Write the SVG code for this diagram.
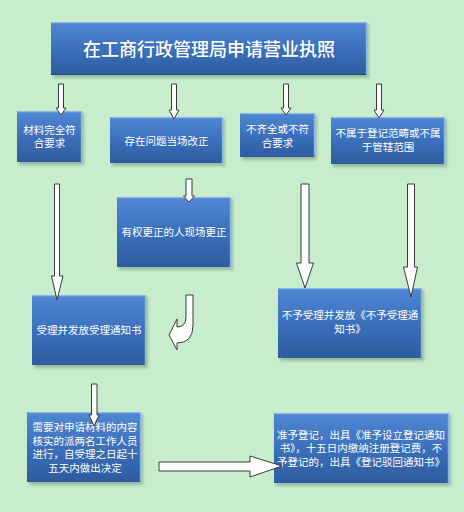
<svg xmlns="http://www.w3.org/2000/svg" width="464" height="512" viewBox="0 0 464 512">
<defs>
<linearGradient id="bg" x1="0" y1="0" x2="0" y2="1">
<stop offset="0" stop-color="#4F88D3"/>
<stop offset="0.5" stop-color="#3C70BC"/>
<stop offset="1" stop-color="#2D5C9E"/>
</linearGradient>
<filter id="sh" x="-10%" y="-10%" width="130%" height="140%">
<feGaussianBlur stdDeviation="1.5"/>
</filter>
<style>
.bx{fill:url(#bg);}
.sd{fill:#5f7d68;opacity:0.45;filter:url(#sh);}
.hl{fill:none;stroke:#8CB6EA;stroke-width:1.2;}
.dk{fill:none;stroke:#24497f;stroke-width:1;}
.t{font-family:"Noto Sans CJK SC","Noto Sans",sans-serif;font-size:10.5px;fill:#ffffff;text-anchor:middle;}
.tt{font-family:"Noto Sans CJK SC","Noto Sans",sans-serif;font-size:18px;font-weight:500;fill:#ffffff;text-anchor:middle;}
.ar{fill:#ffffff;stroke:#3a3a3a;stroke-width:1;stroke-linejoin:miter;}
</style>
</defs>
<rect x="0" y="0" width="464" height="512" fill="#C7EDCD"/>

<g id="title">
<rect class="sd" x="53" y="24" width="316" height="54"/>
<rect class="bx" x="51" y="22" width="316" height="53"/>
<path class="hl" d="M51.5,22.6 H366.4 V75"/>
<path class="dk" d="M51,74.5 H366"/>
<text class="tt" x="209" y="55.5">在工商行政管理局申请营业执照</text>
</g>

<g id="n1">
<rect class="sd" x="19" y="113" width="65" height="52"/>
<rect class="bx" x="17" y="111" width="65" height="51"/>
<path class="hl" d="M17.5,111.6 H81.4 V162"/>
<text class="t" x="49.5" y="133.5">材料完全符</text>
<text class="t" x="49.5" y="147">合要求</text>
</g>

<g id="n2">
<rect class="sd" x="112" y="119" width="113" height="47"/>
<rect class="bx" x="110" y="117" width="113" height="46"/>
<path class="hl" d="M110.5,117.6 H222.4 V163"/>
<text class="t" x="166.5" y="145">存在问题当场改正</text>
</g>

<g id="n3">
<rect class="sd" x="242" y="115" width="75" height="45"/>
<rect class="bx" x="240" y="113" width="75" height="44"/>
<path class="hl" d="M240.5,113.6 H314.4 V157"/>
<text class="t" x="277.5" y="133">不齐全或不符</text>
<text class="t" x="277.5" y="146.5">合要求</text>
</g>

<g id="n4">
<rect class="sd" x="333" y="119" width="114" height="48"/>
<rect class="bx" x="331" y="117" width="114" height="47"/>
<path class="hl" d="M331.5,117.6 H444.4 V164"/>
<text class="t" x="388" y="137">不属于登记范畴或不属</text>
<text class="t" x="388" y="150.5">于管辖范围</text>
</g>

<g id="n5">
<rect class="sd" x="119" y="199" width="114" height="71"/>
<rect class="bx" x="117" y="197" width="114" height="70"/>
<path class="hl" d="M117.5,197.6 H230.4 V267"/>
<text class="t" x="174" y="236">有权更正的人现场更正</text>
</g>

<g id="n6">
<rect class="sd" x="34" y="297" width="114" height="71"/>
<rect class="bx" x="32" y="295" width="114" height="70"/>
<path class="hl" d="M32.5,295.6 H145.4 V365"/>
<text class="t" x="89" y="334">受理并发放受理通知书</text>
</g>

<g id="n7">
<rect class="sd" x="280" y="290" width="144" height="71"/>
<rect class="bx" x="278" y="288" width="144" height="70"/>
<path class="hl" d="M278.5,288.6 H421.4 V358"/>
<text class="t" x="350" y="319">不予受理并发放《不予受理通</text>
<text class="t" x="350" y="333">知书》</text>
</g>

<g id="n8">
<rect class="sd" x="29" y="414" width="114" height="71"/>
<rect class="bx" x="27" y="412" width="114" height="70"/>
<path class="hl" d="M27.5,412.6 H140.4 V482"/>
<text class="t" x="85" y="431">需要对申请材料的内容</text>
<text class="t" x="85" y="444.5">核实的派两名工作人员</text>
<text class="t" x="85" y="458">进行，自受理之日起十</text>
<text class="t" x="85" y="471.5">五天内做出决定</text>
</g>

<g id="n9">
<rect class="sd" x="276" y="415" width="175" height="71"/>
<rect class="bx" x="274" y="413" width="175" height="70"/>
<path class="hl" d="M274.5,413.6 H448.4 V483"/>
<text class="t" x="361" y="438.5">准予登记，出具《准予设立登记通知</text>
<text class="t" x="361" y="452">书》，十五日内缴纳注册登记费，不</text>
<text class="t" x="361" y="465.5">予登记的，出具《登记驳回通知书》</text>
</g>

<g id="connectors">
<path class="ar" d="M58.5,84 H63.5 V108 H66 L61,115 L56,108 H58.5 Z"/>
<path class="ar" d="M171.5,84 H176.5 V110 H179 L174,119 L169,110 H171.5 Z"/>
<path class="ar" d="M283.5,84 H288.5 V108 H291 L286,115 L281,108 H283.5 Z"/>
<path class="ar" d="M376.5,84 H381.5 V110 H384 L379,118 L374,110 H376.5 Z"/>
<path class="ar" d="M186,179 H192 V196 H194.5 L189,202 L183.5,196 H186 Z"/>
<path class="ar" d="M54.5,184 H59.5 V276 H63 L57,300 L51.5,276 H54.5 Z"/>
<path class="ar" d="M301,184 H309 V263 H313.5 L305,288 L296.5,263 H301 Z"/>
<path class="ar" d="M407.5,184 H414.5 V267 H417.5 L411,297 L403.5,267 H407.5 Z"/>
<path class="ar" d="M186,295 H193 V325 Q193,343 177,343 V350 L169,335 L177,319 V327 Q186,327 186,317 Z"/>
<path class="ar" d="M91.5,384 H97 V415 H99 L94,426 L89,415 H91.5 Z"/>
<path class="ar" d="M159,462 H250 V456 L282,466 L250,477 V471 H159 Z"/>
</g>
</svg>
